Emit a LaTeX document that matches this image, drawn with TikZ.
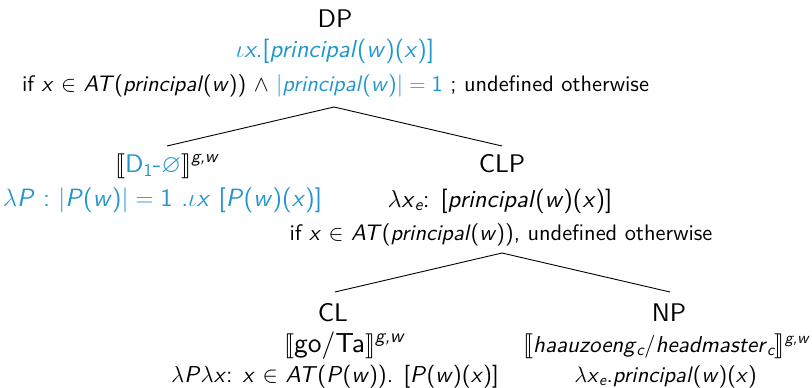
\RequirePackage{fix-cm}
\documentclass[tikz,border=0pt]{standalone}
\usepackage{amsmath,amssymb}
\usepackage{stmaryrd}
\usepackage{fontspec}
\setsansfont{lmsans10-regular}[Extension=.otf,ItalicFont=lmsans10-oblique,BoldFont=lmsans10-bold]
\definecolor{blu}{RGB}{33,150,205}
\newcommand\vi[1]{\textit{#1}}
\newcommand\gw{$^{\textit{g,w}}$}
\begin{document}
\begin{tikzpicture}[x=1pt,y=-1pt,
  lbl/.style={inner sep=0pt,font=\sffamily\fontsize{22.4}{26}\selectfont},
  lblb/.style={inner sep=0pt,font=\sffamily\fontsize{23}{27}\selectfont},
  big/.style={inner sep=0pt,font=\sffamily\fontsize{24.5}{29}\selectfont},
  sem/.style={inner sep=0pt,font=\sffamily\fontsize{27.5}{32}\selectfont},
  cat/.style={inner sep=0pt,font=\sffamily\fontsize{25.5}{30}\selectfont},
  edge/.style={line width=0.9pt}]
\useasboundingbox (0,0) rectangle (812,388);
% DP
\node[cat] (dp) at (335,19) {DP};
\node[big,text=blu] (dpm) at (335,51) {$\iota$\vi{x}.[\vi{principal}(\vi{w})(\vi{x})]};
\node[lbl] (dpc) at (335.5,86) {if \vi{x} $\in$ \vi{AT}(\vi{principal}(\vi{w})) $\wedge$ \textcolor{blu}{|\vi{principal}(\vi{w})|${}={}$1} ; undefined otherwise};
\coordinate (dptop) at (334,107);
% D
\coordinate (dtop) at (167,146);
\node[sem,font=\sffamily\fontsize{25.5}{30}\selectfont] (d) at (166.5,166) {$\llbracket$\textcolor{blu}{D$_{\text{1}}$-$\varnothing$}$\rrbracket$\gw};
\node[big,text=blu,font=\sffamily\fontsize{25}{29}\selectfont] (dm) at (162.5,200) {$\lambda$\vi{P} : |\vi{P}(\vi{w})|${}={}$1 .$\iota$\vi{x} [\vi{P}(\vi{w})(\vi{x})]};
% CLP
\coordinate (clptop) at (502,146);
\node[cat] (clp) at (502,164) {CLP};
\node[big] (clpm) at (500,201) {$\lambda$\vi{x}$_{\textit{e}}$: [\vi{principal}(\vi{w})(\vi{x})]};
\node[lbl] (clpc) at (501,235) {if \vi{x} $\in$ \vi{AT}(\vi{principal}(\vi{w})), undefined otherwise};
\coordinate (clpbot) at (502,253);
% CL
\coordinate (cltop) at (335,292);
\node[cat] (cl) at (333,313) {CL};
\node[sem] (clm) at (344,346) {$\llbracket$go/Ta$\rrbracket$\gw};
\node[lblb] (clc) at (335,377) {$\lambda$\vi{P}$\lambda$\vi{x}: \vi{x} $\in$ \vi{AT}(\vi{P}(\vi{w})). [\vi{P}(\vi{w})(\vi{x})]};
% NP
\coordinate (nptop) at (670,292);
\node[cat] (np) at (669,313) {NP};
\node[lblb] (npm) at (666,346) {$\llbracket$\vi{haauzoeng}$_{\textit{c}}$/\vi{headmaster}$_{\textit{c}}$$\rrbracket$\gw};
\node[lbl] (npc) at (665.5,377) {$\lambda$\vi{x}$_{\textit{e}}$.\vi{principal}(\vi{w})(\vi{x})};
% edges
\draw[edge] (dptop) -- (dtop);
\draw[edge] (dptop) -- (clptop);
\draw[edge] (clpbot) -- (cltop);
\draw[edge] (clpbot) -- (nptop);
\end{tikzpicture}
\end{document}
